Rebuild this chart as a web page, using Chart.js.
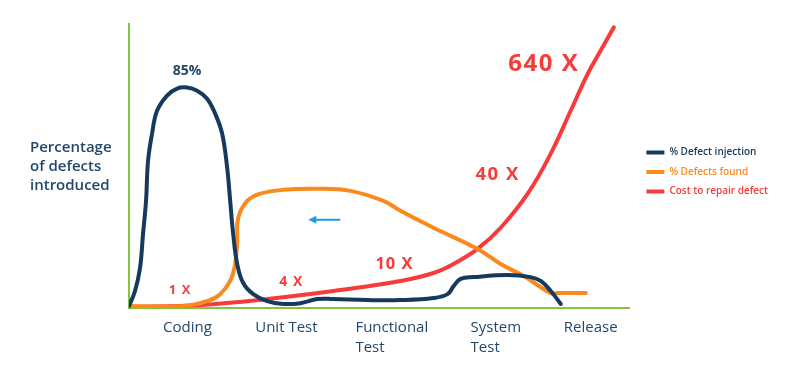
<!DOCTYPE html>
<html>
<head>
<meta charset="utf-8">
<script src="https://cdn.jsdelivr.net/npm/chart.js@4/dist/chart.umd.min.js"></script>
<style>
html,body{margin:0;padding:0;background:#fff;}
#wrap{width:800px;height:368px;}
</style>
</head>
<body>
<div id="wrap"><canvas id="c"></canvas></div>
<script>
// ---- data (x: timeline 0-100, y: relative level 0-110) ----
const stageLabels = [["Coding"], ["Unit Test"], ["Functional", "Test"], ["System", "Test"], ["Release"]];
const stagePositions = [6.8, 25.2, 45.2, 68.2, 86.8];

const injectionX = [0, 1.2, 2.2, 2.8, 3.4, 3.8, 4.6, 5.6, 7.6, 9.6, 11.6, 13.6, 15.6, 17.2, 18.6, 19.6, 20.2, 20.8, 21.6, 22.8, 24.8, 27.6, 30.8, 34.2, 37.6, 40.8, 47.6, 54.2, 60.8, 63.6, 64.8, 66.2, 68.8, 75.6, 80.2, 82.2, 84.2, 86.2];
const injectionY = [0.8, 6.6, 15.5, 28.7, 41.5, 57, 67.5, 76.4, 82.3, 85, 85.4, 84.2, 81.1, 75.3, 67.5, 54.3, 41.5, 28.7, 17.1, 9.7, 5.4, 2.7, 1.6, 1.9, 3.5, 3.5, 3.1, 3.1, 3.9, 5.4, 8.5, 11.3, 12, 12.8, 12, 10.5, 6.6, 1.6];

const foundX = [0, 10.8, 15.6, 18.2, 20.2, 21.2, 21.6, 21.8, 23.6, 26.2, 30.8, 37.6, 44.2, 50.8, 54.2, 60.8, 69.6, 74.2, 78.8, 84.2, 85.6, 91.2];
const foundY = [0.8, 0.8, 2.7, 5.4, 10.5, 17.1, 26, 34.9, 41.5, 44.3, 45.8, 46.2, 45.4, 41.5, 37.7, 31.1, 22.9, 17.1, 12.4, 5.8, 5.8, 5.8];

const costX = [0, 14.2, 27.6, 40.8, 54.2, 60.8, 64.8, 69.6, 74.2, 79.6, 84.2, 88.2, 91.6, 94.2, 96.8];
const costY = [0.4, 1.2, 3.5, 6.6, 10.5, 13.6, 17.1, 22.9, 31.1, 44.3, 59.8, 76.5, 90.8, 99.8, 108.7];

const seriesNames = ["% Defect injection", "% Defects found", "Cost to repair defect"];

const costLabels = ["1 X", "4 X", "10 X", "40 X", "640 X"];
const costLabelX = [10.2, 32.4, 53, 73.6, 82.8];
const costLabelY = [7, 10.1, 17.1, 51.6, 94.3];
const costLabelSize = [13, 14, 16.5, 18.5, 24];

const peakLabel = "85%";
const peakLabelX = 11.6;
const peakLabelY = 91.8;

const arrowFromX = 42.2, arrowToX = 35.8, arrowY = 34.2;

const yTitleLines = ["Percentage", "of defects", "introduced"];

// ---- styles ----
const NAVY = "#163a5e";
const ORANGE = "#fb8a1e";
const RED = "#f73b3b";
const GREEN = "#84c441";
const TEXT = "#24486c";
const FONT = "'Open Sans', 'DejaVu Sans', sans-serif";

const pts = (xs, ys) => xs.map((x, i) => ({x: x, y: ys[i]}));

const annotations = {
  id: 'annotations',
  afterDatasetsDraw(chart) {
    const ctx = chart.ctx;
    const xs = chart.scales.x, ys = chart.scales.y;
    ctx.save();
    ctx.textAlign = 'center';
    ctx.textBaseline = 'middle';
    costLabels.forEach((t, i) => {
      ctx.font = `bold ${costLabelSize[i]}px ${FONT}`;
      ctx.letterSpacing = (costLabelSize[i] > 18 ? 1.5 : 1) + 'px';
      ctx.fillStyle = RED;
      ctx.fillText(t, xs.getPixelForValue(costLabelX[i]), ys.getPixelForValue(costLabelY[i]));
    });
    ctx.letterSpacing = '0px';
    ctx.font = `bold 14px ${FONT}`;
    ctx.fillStyle = TEXT;
    ctx.fillText(peakLabel, xs.getPixelForValue(peakLabelX), ys.getPixelForValue(peakLabelY));
    const ax1 = xs.getPixelForValue(arrowFromX), ax2 = xs.getPixelForValue(arrowToX), ay = ys.getPixelForValue(arrowY);
    ctx.strokeStyle = "#1f9ce0";
    ctx.fillStyle = "#1f9ce0";
    ctx.lineWidth = 2;
    ctx.beginPath();
    ctx.moveTo(ax1, ay);
    ctx.lineTo(ax2 + 6, ay);
    ctx.stroke();
    ctx.beginPath();
    ctx.moveTo(ax2, ay);
    ctx.lineTo(ax2 + 8, ay - 4);
    ctx.lineTo(ax2 + 8, ay + 4);
    ctx.closePath();
    ctx.fill();
    ctx.textAlign = 'left';
    ctx.font = `600 15px ${FONT}`;
    ctx.fillStyle = TEXT;
    yTitleLines.forEach((t, i) => ctx.fillText(t, 30, 148 + i * 19));
    ctx.restore();
  }
};

new Chart(document.getElementById('c'), {
  type: 'line',
  data: {
    datasets: [
      {label: seriesNames[0], data: pts(injectionX, injectionY), borderColor: NAVY, backgroundColor: NAVY},
      {label: seriesNames[1], data: pts(foundX, foundY), borderColor: ORANGE, backgroundColor: ORANGE},
      {label: seriesNames[2], data: pts(costX, costY), borderColor: RED, backgroundColor: RED}
    ]
  },
  options: {
    responsive: true,
    maintainAspectRatio: false,
    animation: false,
    layout: {padding: {left: 121, right: 22, top: 24, bottom: 8}},
    elements: {
      line: {borderWidth: 4, tension: 0.4, borderCapStyle: 'round', borderJoinStyle: 'round', fill: false},
      point: {radius: 0, hoverRadius: 0}
    },
    scales: {
      x: {
        type: 'linear', min: 0, max: 100,
        grid: {display: false},
        border: {display: true, color: GREEN, width: 2},
        afterBuildTicks: (s) => { s.ticks = stagePositions.map(v => ({value: v})); },
        ticks: {
          align: 'start',
          autoSkip: false,
          maxRotation: 0,
          padding: 2,
          color: TEXT,
          font: {family: FONT, size: 15, lineHeight: 1.33},
          callback: function(v, i) { return stageLabels[i]; }
        }
      },
      y: {
        type: 'linear', min: 0, max: 110,
        grid: {display: false},
        border: {display: true, color: GREEN, width: 2},
        ticks: {display: false}
      },
      gap: {
        type: 'linear', position: 'right', display: true,
        grid: {display: false},
        border: {display: false},
        ticks: {display: false},
        afterFit: (s) => { s.width = 7; }
      }
    },
    plugins: {
      tooltip: {enabled: false},
      legend: {
        position: 'right',
        align: 'start',
        maxWidth: 220,
        title: {display: true, text: '', font: {size: 10}, padding: {top: 51, bottom: 51}},
        labels: {
          boxWidth: 18,
          boxHeight: 4,
          useBorderRadius: true,
          borderRadius: 2,
          padding: 9.5,
          font: {family: FONT, size: 10, weight: '600'},
          generateLabels: (chart) => chart.data.datasets.map((d, i) => ({
            text: d.label,
            fillStyle: d.borderColor,
            strokeStyle: d.borderColor,
            lineWidth: 0,
            fontColor: d.borderColor,
            datasetIndex: i,
            hidden: false
          }))
        }
      }
    }
  },
  plugins: [annotations]
});
</script>
</body>
</html>
